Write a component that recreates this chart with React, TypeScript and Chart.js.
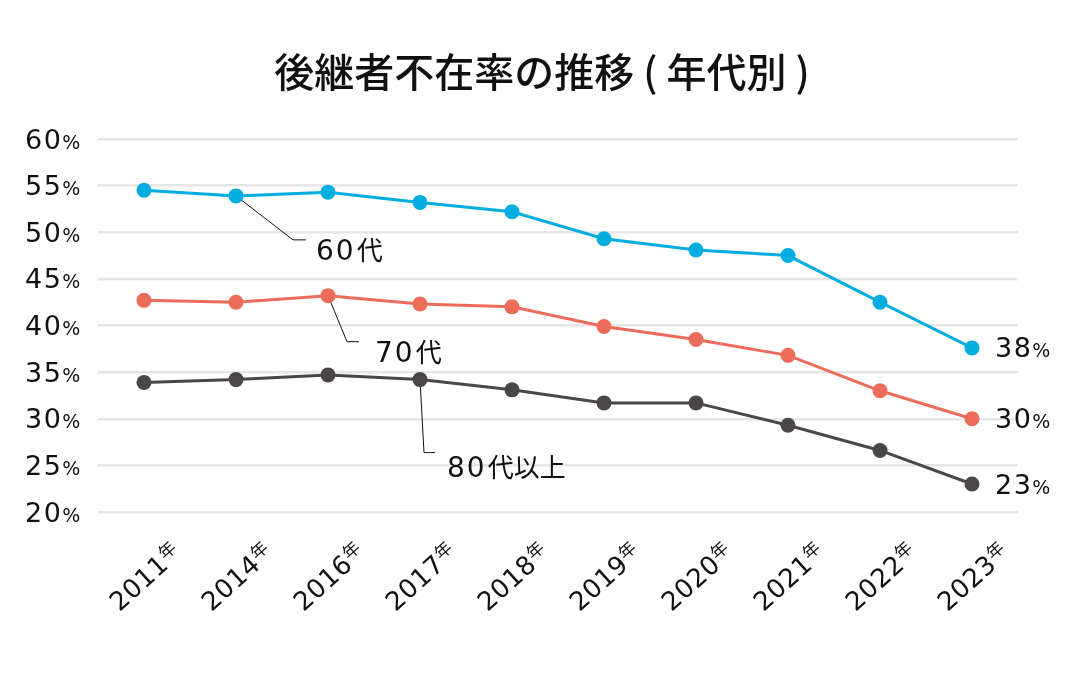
import { useEffect, useRef } from "react";
import { Chart, Plugin, registerables } from "chart.js";

Chart.register(...registerables);

// data
const years = ["2011", "2014", "2016", "2017", "2018", "2019", "2020", "2021", "2022", "2023"];
const age60 = [54.5, 53.9, 54.3, 53.2, 52.2, 49.3, 48.1, 47.5, 42.5, 37.6];
const age70 = [42.7, 42.5, 43.2, 42.3, 42.0, 39.9, 38.5, 36.8, 33.0, 30.0];
const age80 = [33.9, 34.2, 34.7, 34.2, 33.1, 31.7, 31.7, 29.3, 26.6, 23.0];
const seriesNames = ["60代", "70代", "80代以上"];
const seriesColors = ["#00ade0", "#ec6c5a", "#4b4748"];

const title = "後継者不在率の推移 ( 年代別 )";

// leader lines for the series names: offsets from the anchor point
const callouts = [
    { series: 0, index: 1, elbow: [57, 44], end: [70, 44], text: [80, 64] },
    { series: 1, index: 2, elbow: [19, 46], end: [31, 46], text: [47, 66] },
    { series: 2, index: 3, elbow: [4, 73], end: [15, 73], text: [27, 97] },
];

const NUM_FONT = "DejaVu Sans";
const JP_FONT = "'Noto Sans CJK JP'";
const INK = "#111111";

type Part = { text: string; font: string; dy?: number; gap?: number; spacing?: number };

function setPart(ctx: CanvasRenderingContext2D, p: Part) {
    ctx.font = p.font;
    (ctx as any).letterSpacing = `${p.spacing ?? 0}px`;
}

function partsWidth(ctx: CanvasRenderingContext2D, parts: Part[]) {
    let w = 0;
    for (const p of parts) {
        setPart(ctx, p);
        w += ctx.measureText(p.text).width + (p.gap ?? 0);
    }
    return w;
}

function drawParts(ctx: CanvasRenderingContext2D, parts: Part[], x: number, y: number) {
    let cx = x;
    ctx.textAlign = "left";
    ctx.textBaseline = "alphabetic";
    for (const p of parts) {
        setPart(ctx, p);
        cx += p.gap ?? 0;
        ctx.fillText(p.text, cx, y + (p.dy ?? 0));
        cx += ctx.measureText(p.text).width;
    }
    (ctx as any).letterSpacing = "0px";
}

function pctParts(v: number | string): Part[] {
    return [
        { text: String(v), font: `27px ${NUM_FONT}`, spacing: 1.5 },
        { text: "%", font: `19px ${NUM_FONT}`, gap: 0 },
    ];
}

function nameParts(name: string): Part[] {
    const m = name.match(/^(\d+)(.*)$/);
    if (!m) return [{ text: name, font: `26px ${JP_FONT}` }];
    return [
        { text: m[1], font: `28px ${NUM_FONT}`, spacing: 2 },
        { text: m[2], font: `26px ${JP_FONT}`, gap: 1 },
    ];
}

const labelsPlugin: Plugin<"line"> = {
    id: "customLabels",
    beforeDatasetsDraw(chart) {
        const ctx = chart.ctx;
        ctx.save();
        ctx.strokeStyle = "#111";
        ctx.lineWidth = 1;
        for (const c of callouts) {
            const pt = chart.getDatasetMeta(c.series).data[c.index];
            ctx.beginPath();
            ctx.moveTo(pt.x, pt.y);
            ctx.lineTo(pt.x + c.elbow[0], pt.y + c.elbow[1]);
            ctx.lineTo(pt.x + c.end[0], pt.y + c.end[1]);
            ctx.stroke();
        }
        ctx.restore();
    },
    afterDraw(chart) {
        const ctx = chart.ctx;
        const yScale = chart.scales.y;
        const xScale = chart.scales.x;
        ctx.save();
        ctx.fillStyle = INK;

        // y tick labels, small percent sign
        for (const t of yScale.ticks) {
            const y = yScale.getPixelForValue(t.value);
            drawParts(ctx, pctParts(t.value), 25, y + 9.5);
        }

        // x tick labels, rotated, small 年
        years.forEach((yr, i) => {
            const x = xScale.getPixelForValue(i);
            const parts: Part[] = [
                { text: yr, font: `26px ${NUM_FONT}`, spacing: 0.5 },
                { text: "年", font: `17px ${JP_FONT}`, dy: -8, gap: 0 },
            ];
            const w = partsWidth(ctx, parts);
            ctx.save();
            ctx.translate(x + 1, 577);
            ctx.rotate(-42 * Math.PI / 180);
            drawParts(ctx, parts, -w / 2, 9);
            ctx.restore();
        });

        // end values
        chart.data.datasets.forEach((ds, di) => {
            const meta = chart.getDatasetMeta(di);
            const last = meta.data[meta.data.length - 1];
            const v = Math.round(ds.data[ds.data.length - 1] as number);
            drawParts(ctx, pctParts(v), last.x + 23, last.y + 9.5);
        });

        // series names
        for (const c of callouts) {
            const pt = chart.getDatasetMeta(c.series).data[c.index];
            drawParts(ctx, nameParts(seriesNames[c.series]), pt.x + c.text[0], pt.y + c.text[1]);
        }
        ctx.restore();
    },
};

function LineChart() {
    const canvasRef = useRef<HTMLCanvasElement>(null);

    useEffect(() => {
        if (canvasRef.current === null) return;
        const series = [age60, age70, age80];
        const chart = new Chart(canvasRef.current, {
            type: "line",
            data: {
                labels: years,
                datasets: series.map((d, i) => ({
                    label: seriesNames[i],
                    data: d,
                    borderColor: seriesColors[i],
                    backgroundColor: seriesColors[i],
                    pointBackgroundColor: seriesColors[i],
                    pointBorderWidth: 0,
                    pointRadius: 7.5,
                    borderWidth: 3,
                    tension: 0,
                })),
            },
            options: {
                responsive: false,
                animation: false,
                layout: { padding: { top: 10, left: 10, right: 6, bottom: 164 } },
                scales: {
                    x: { type: "category", offset: true, display: false },
                    y: {
                        min: 20,
                        max: 60,
                        ticks: { display: false, stepSize: 5 },
                        grid: { color: "#e6e6e6", lineWidth: 2.5, drawTicks: false },
                        border: { display: false },
                        // room for the hand-drawn tick labels
                        afterFit: (scale) => { scale.width = 88; },
                    },
                    yRight: {
                        position: "right",
                        min: 20,
                        max: 60,
                        ticks: { display: false },
                        grid: { display: false, drawTicks: false },
                        border: { display: false },
                        // room for the end value labels
                        afterFit: (scale) => { scale.width = 56; },
                    },
                },
                plugins: {
                    legend: { display: false },
                    tooltip: { enabled: false },
                    title: {
                        display: true,
                        text: title,
                        color: INK,
                        font: { family: "Noto Sans CJK JP", size: 40, weight: 500 },
                        padding: { top: 38, bottom: 43 },
                    },
                },
            },
            plugins: [labelsPlugin],
        });
        return () => chart.destroy();
    }, []);

    return <canvas ref={canvasRef} width={1080} height={676} />;
}

export default function App() {
    useEffect(() => {
        document.body.style.margin = "0";
    }, []);
    return (
        <div style={{ width: 1080, height: 676, background: "#fff" }}>
            <LineChart />
        </div>
    );
}
